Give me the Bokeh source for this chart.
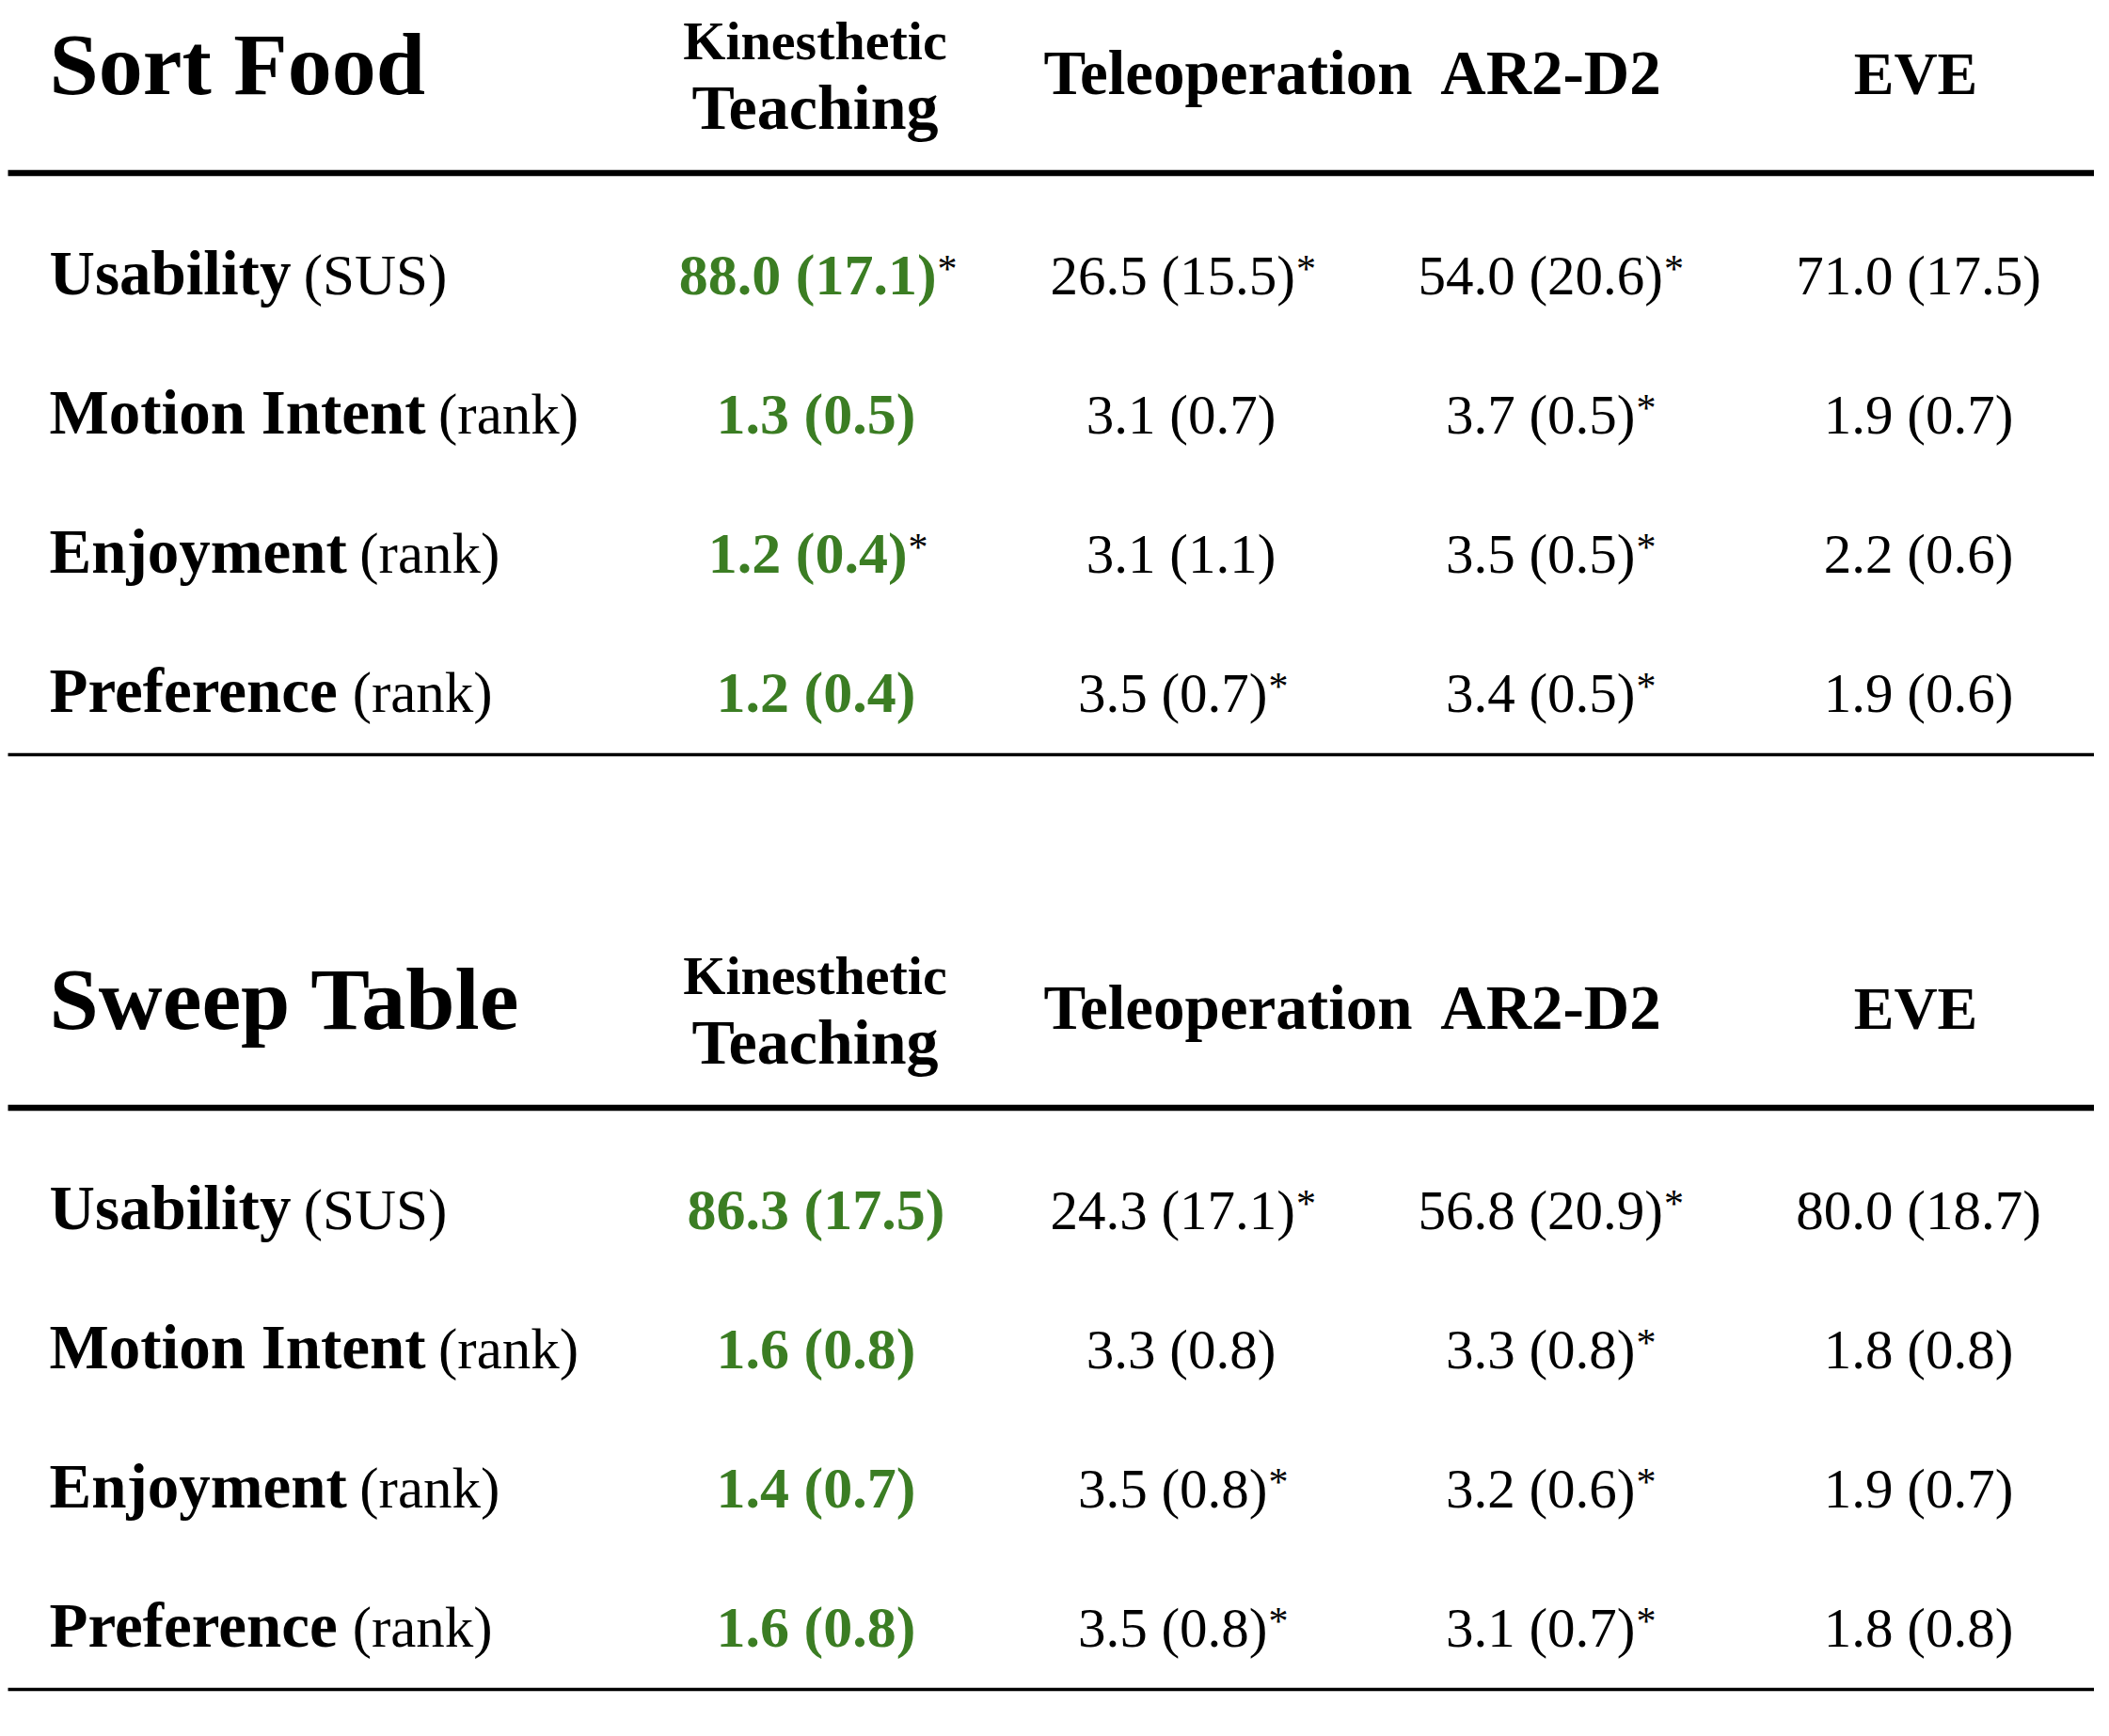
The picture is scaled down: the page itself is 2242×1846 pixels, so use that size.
from bokeh.plotting import figure
from bokeh.models import Range1d
from bokeh.core.properties import value
from bokeh.embed import file_html
from bokeh.resources import INLINE

# ---------------- data ----------------
tasks = ["Sort Food", "Sweep Table"]
method_line1 = ["Kinesthetic", "", "", ""]
method_line2 = ["Teaching", "Teleoperation", "AR2-D2", "EVE"]
measures = ["Usability", "Motion Intent", "Enjoyment", "Preference"]
units = ["(SUS)", "(rank)", "(rank)", "(rank)"]

# Sort Food: rows = measures, cols = methods
sort_mean = [[88.0, 26.5, 54.0, 71.0],
             [1.3, 3.1, 3.7, 1.9],
             [1.2, 3.1, 3.5, 2.2],
             [1.2, 3.5, 3.4, 1.9]]
sort_sd = [[17.1, 15.5, 20.6, 17.5],
           [0.5, 0.7, 0.5, 0.7],
           [0.4, 1.1, 0.5, 0.6],
           [0.4, 0.7, 0.5, 0.6]]
sort_sig = [[1, 1, 1, 0],
            [0, 0, 1, 0],
            [1, 0, 1, 0],
            [0, 1, 1, 0]]

# Sweep Table
sweep_mean = [[86.3, 24.3, 56.8, 80.0],
              [1.6, 3.3, 3.3, 1.8],
              [1.4, 3.5, 3.2, 1.9],
              [1.6, 3.5, 3.1, 1.8]]
sweep_sd = [[17.5, 17.1, 20.9, 18.7],
            [0.8, 0.8, 0.8, 0.8],
            [0.7, 0.8, 0.6, 0.7],
            [0.8, 0.8, 0.7, 0.8]]
sweep_sig = [[0, 1, 1, 0],
             [0, 0, 1, 0],
             [0, 1, 1, 0],
             [0, 1, 1, 0]]

best_method = 0  # highlighted (green) column

tables = [(sort_mean, sort_sd, sort_sig), (sweep_mean, sweep_sd, sweep_sig)]

# ---------------- layout / style ----------------
FONT = value("Liberation Serif")
GREEN = "#3b7d23"
W, H = 2226, 1830
X0, X1 = 8, 2234
LABEL_X = 52
VAL_X = [867, 1255, 1646, 2039]
HEAD_X = [866, 1305, 1648, 2036]
TABLE_DY = 994
ROW_Y0, ROW_STEP = 313, 148
VAL_SIZE = 59
VAL_BOLD_SIZE = 62
STAR_SIZE = 42
LABEL_SIZE = 67
UNIT_SIZE = 61
BASE_SHIFT = 0.35  # em correction so that y is the glyph baseline

# Liberation Serif (Times-metric) advance widths per em
BOLD_W = {' ': .25, 'A': .722, 'E': .667, 'I': .389, 'M': .944, 'P': .611, 'U': .722,
          'a': .5, 'b': .556, 'c': .444, 'e': .444, 'f': .333, 'i': .278, 'j': .333,
          'l': .278, 'm': .833, 'n': .556, 'o': .5, 'r': .444, 's': .389, 't': .333, 'y': .5}
NUM_W = {'.': .25, ' ': .25, '(': .333, ')': .333}


def bold_width(s, size):
    return sum(BOLD_W.get(c, .5) for c in s) * size


def num_width(s, size):
    return sum(NUM_W.get(c, .5) for c in s) * size


p = figure(width=W, height=H, x_range=Range1d(0, W), y_range=Range1d(H, 0),
           output_backend="svg", toolbar_location=None,
           min_border=0, x_axis_location=None, y_axis_location=None)
p.grid.visible = False
p.outline_line_color = None
p.background_fill_color = "white"
p.border_fill_color = "white"


def txt(x, y, s, size, bold=False, color="black", align="left"):
    p.text(x=[x], y=[y - BASE_SHIFT * size], text=[s], text_font=FONT,
           text_font_size=f"{size}px",
           text_font_style="bold" if bold else "normal", text_color=color,
           text_align=align, text_baseline="alphabetic")


for t, (mean, sd, sig) in enumerate(tables):
    dy = t * TABLE_DY
    # title
    txt(LABEL_X, 100 + dy, tasks[t], 94, bold=True)
    # headers
    for j in range(len(method_line2)):
        if method_line1[j]:
            txt(HEAD_X[j], 63 + dy, method_line1[j], 58, bold=True, align="center")
            txt(HEAD_X[j], 137 + dy, method_line2[j], 68, bold=True, align="center")
        else:
            size = 64 if len(method_line2[j]) <= 3 else 67
            txt(HEAD_X[j], 100 + dy, method_line2[j], size, bold=True, align="center")
    # rules
    p.line(x=[X0, X1], y=[183.5 + dy, 183.5 + dy], line_color="black", line_width=6.5)
    p.line(x=[X0, X1], y=[802 + dy, 802 + dy], line_color="black", line_width=3.5)
    # rows
    for i in range(len(measures)):
        y = ROW_Y0 + i * ROW_STEP + dy
        txt(LABEL_X, y, measures[i], LABEL_SIZE, bold=True)
        ux = LABEL_X + bold_width(measures[i], LABEL_SIZE) + 0.2 * LABEL_SIZE
        txt(ux, y, units[i], UNIT_SIZE)
        for j in range(len(mean[i])):
            s = f"{mean[i][j]:.1f} ({sd[i][j]:.1f})"
            hi = (j == best_method)
            size = VAL_BOLD_SIZE if hi else VAL_SIZE
            w_main = num_width(s, size)
            w_star = 0.42 * STAR_SIZE if sig[i][j] else 0
            left = VAL_X[j] - (w_main + w_star) / 2
            txt(left, y, s, size, bold=hi, color=GREEN if hi else "black")
            if sig[i][j]:
                txt(left + w_main + 1, y - 13, "*", STAR_SIZE)

open("out.html", "w").write(file_html(p, INLINE))
